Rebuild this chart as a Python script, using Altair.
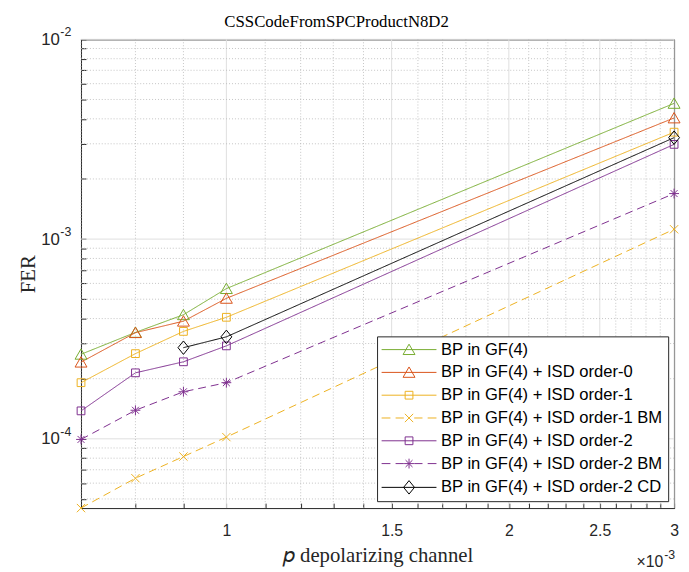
import altair as alt
import pandas as pd

# ---------------- data (p in units of 1e-3) ----------------
p_main = [0.7, 0.8, 0.9, 1.0, 3.0]
p_cd = [0.9, 1.0, 3.0]

fer_bp = [2.65e-4, 3.41e-4, 4.18e-4, 5.65e-4, 4.78e-3]
fer_isd0 = [2.42e-4, 3.40e-4, 3.88e-4, 5.05e-4, 4.04e-3]
fer_isd1 = [1.91e-4, 2.67e-4, 3.45e-4, 4.06e-4, 3.43e-3]
fer_isd1_bm = [4.5e-5, 6.35e-5, 8.15e-5, 1.02e-4, 1.12e-3]
fer_isd2 = [1.38e-4, 2.14e-4, 2.43e-4, 2.92e-4, 2.98e-3]
fer_isd2_bm = [9.93e-5, 1.39e-4, 1.72e-4, 1.91e-4, 1.69e-3]
fer_isd2_cd = [2.86e-4, 3.24e-4, 3.22e-3]

series_names = [
    "BP in GF(4)",
    "BP in GF(4) + ISD order-0",
    "BP in GF(4) + ISD order-1",
    "BP in GF(4) + ISD order-1 BM",
    "BP in GF(4) + ISD order-2",
    "BP in GF(4) + ISD order-2 BM",
    "BP in GF(4) + ISD order-2 CD",
]
series_colors = ["#77AC30", "#D95319", "#EDB120", "#EDB120", "#7E2F8E", "#7E2F8E", "#000000"]
series_dash = [[1, 0], [1, 0], [1, 0], [8, 5], [1, 0], [8, 5], [1, 0]]

TRI = "M0,-1.05L1.15,0.95L-1.15,0.95Z"
SQ = "M-0.75,-0.75H0.75V0.75H-0.75Z"
XM = "M-0.8,-0.8L0.8,0.8M-0.8,0.8L0.8,-0.8"
AST = "M-0.95,0H0.95M0,-0.95V0.95M-0.67,-0.67L0.67,0.67M-0.67,0.67L0.67,-0.67"
DIA = "M0,-1.3L1.05,0L0,1.3L-1.05,0Z"
marker_paths = [TRI, TRI, SQ, XM, SQ, AST, DIA]

SOLID = "M-5.3,0H5.3"
DASHED = "M-5.3,0H-3.6M-2.6,0H-1.0M1.0,0H2.6M3.6,0H5.3"
legend_paths = [
    SOLID + TRI, SOLID + TRI, SOLID + SQ, DASHED + XM,
    SOLID + SQ, DASHED + AST, SOLID + DIA,
]

x_major = [1, 1.5, 2, 2.5, 3]
x_minor = [0.7, 0.8, 0.9, 1.1, 1.2, 1.3, 1.4, 1.6, 1.7, 1.8, 1.9,
           2.1, 2.2, 2.3, 2.4, 2.6, 2.7, 2.8, 2.9]
y_major = [1e-4, 1e-3, 1e-2]
y_major_exp = ["-4", "-3", "-2"]
y_minor = [5e-5, 6e-5, 7e-5, 8e-5, 9e-5,
           2e-4, 3e-4, 4e-4, 5e-4, 6e-4, 7e-4, 8e-4, 9e-4,
           2e-3, 3e-3, 4e-3, 5e-3, 6e-3, 7e-3, 8e-3, 9e-3]
x_domain = [0.7, 3]
y_domain = [4.5e-5, 1e-2]

title_text = "CSSCodeFromSPCProductN8D2"
x_title = "\U0001D45D depolarizing channel"
y_title = "FER"
x_mult_base = "×10"
x_mult_exp = "-3"

# ---------------- table ----------------
rows = []
all_p = [p_main] * 6 + [p_cd]
all_f = [fer_bp, fer_isd0, fer_isd1, fer_isd1_bm, fer_isd2, fer_isd2_bm, fer_isd2_cd]
for name, ps, fs in zip(series_names, all_p, all_f):
    for p, f in zip(ps, fs):
        rows.append({"series": name, "p": p, "fer": f})
df = pd.DataFrame(rows)

W, H = 601, 475
TXT = "#262626"

xs = alt.Scale(type="log", domain=x_domain, nice=False, zero=False)
ys = alt.Scale(type="log", domain=y_domain, nice=False, zero=False)

x_axis = alt.Axis(
    values=x_minor + x_major,
    labelExpr="indexof([1,1.5,2,2.5,3], datum.value) >= 0 ? format(datum.value, '~g') : ''",
    offset=-5, tickSize=5, labelPadding=15, labelFlush=False, labelOverlap=False,
    title=x_title, titlePadding=6,
)
y_axis = alt.Axis(
    values=y_minor + y_major,
    labelExpr="indexof([0.0001,0.001,0.01], datum.value) >= 0 ? '10' : ''",
    offset=-5, tickSize=5, labelPadding=22, labelFontSize=17,
    labelFlush=False, labelOverlap=False,
    title=y_title, titlePadding=2,
)


def X(field):
    return alt.X(field, type="quantitative", scale=xs, axis=x_axis)


def Y(field):
    return alt.Y(field, type="quantitative", scale=ys, axis=y_axis)


color_scale = alt.Scale(domain=series_names, range=series_colors)

grid_minor_x = alt.Chart(pd.DataFrame({"v": x_minor})).mark_rule(
    color="#b5b5b5", strokeDash=[1, 2], strokeWidth=0.8).encode(x=X("v"))
grid_minor_y = alt.Chart(pd.DataFrame({"v": y_minor})).mark_rule(
    color="#b5b5b5", strokeDash=[1, 2], strokeWidth=0.8).encode(y=Y("v"))
grid_major_x = alt.Chart(pd.DataFrame({"v": x_major})).mark_rule(
    color="#dedede", strokeWidth=1).encode(x=X("v"))
grid_major_y = alt.Chart(pd.DataFrame({"v": y_major})).mark_rule(
    color="#dedede", strokeWidth=1).encode(y=Y("v"))

# superscript exponents of the y tick labels
y_exp = alt.Chart(pd.DataFrame({"v": y_major, "e": y_major_exp})).mark_text(
    align="left", baseline="middle", font="Liberation Sans", fontSize=12.5, color=TXT, dy=-7
).encode(y=Y("v"), x=alt.value(-21), text="e:N")

lines = alt.Chart(df).mark_line(strokeWidth=1).encode(
    x=X("p"), y=Y("fer"),
    color=alt.Color("series:N", scale=color_scale, legend=None),
    strokeDash=alt.StrokeDash("series:N", scale=alt.Scale(domain=series_names, range=series_dash), legend=None),
    order="p:Q",
)
points = alt.Chart(df).mark_point(filled=False, size=110, strokeWidth=1, opacity=1).encode(
    x=X("p"), y=Y("fer"),
    color=alt.Color("series:N", scale=color_scale, legend=None),
    shape=alt.Shape("series:N", scale=alt.Scale(domain=series_names, range=marker_paths), legend=None),
)

leg = alt.Legend(
    title=None, orient="none", legendX=300, legendY=301,
    fillColor="white", strokeColor=TXT, padding=5,
    labelFont="Liberation Sans", labelFontSize=16.8, labelColor="black",
    symbolSize=110, symbolStrokeWidth=1, symbolOffset=19, labelOffset=24,
    rowPadding=5.1, labelLimit=400,
)
legend_layer = alt.Chart(df).transform_filter("false").mark_point(
    filled=False, size=110, strokeWidth=1, opacity=1).encode(
    color=alt.Color("series:N", scale=color_scale, legend=leg),
    shape=alt.Shape("series:N", scale=alt.Scale(domain=series_names, range=legend_paths), legend=leg),
)

mult_base = alt.Chart(pd.DataFrame({"t": [x_mult_base]})).mark_text(
    align="right", baseline="middle", font="Liberation Sans", fontSize=16, color=TXT
).encode(text="t:N", x=alt.value(W - 11), y=alt.value(H + 55))
mult_exp = alt.Chart(pd.DataFrame({"t": [x_mult_exp]})).mark_text(
    align="left", baseline="middle", font="Liberation Sans", fontSize=12.5, color=TXT
).encode(text="t:N", x=alt.value(W - 10), y=alt.value(H + 48))

title_mark = alt.Chart(pd.DataFrame({"t": [title_text]})).mark_text(
    align="center", baseline="alphabetic", font="Liberation Serif", fontSize=17, color="black"
).encode(text="t:N", x=alt.value(W / 2 - 41.5), y=alt.value(-13))

chart = alt.layer(
    grid_major_x, grid_major_y, grid_minor_x, grid_minor_y,
    lines, points, legend_layer, y_exp, mult_base, mult_exp, title_mark,
).resolve_scale(
    color="independent", shape="independent"
).properties(
    width=W, height=H,
    autosize=alt.AutoSizeParams(type="none"),
    padding={"left": 74, "top": 28, "right": 7, "bottom": 61},
).configure_view(
    stroke=TXT, strokeWidth=1
).configure_axis(
    domain=False, grid=False, tickColor=TXT, tickWidth=1,
    labelFont="Liberation Sans", labelFontSize=16, labelColor=TXT,
    titleFont="Liberation Serif", titleFontSize=21, titleFontWeight="normal", titleColor=TXT,
)

chart.save("out.html", embed_options={"renderer": "svg", "actions": False})
